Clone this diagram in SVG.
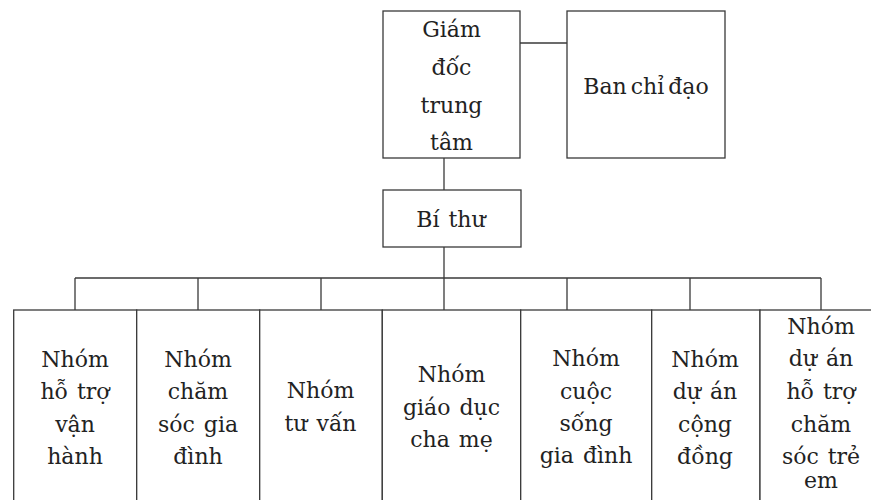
<svg xmlns="http://www.w3.org/2000/svg" width="871" height="500" viewBox="0 0 871 500">
<style>
.box{fill:#fff;stroke:#3a3a3a;stroke-width:1.3}
.ln{fill:none;stroke:#3a3a3a;stroke-width:1.3}
text{font-family:"DejaVu Serif","Liberation Serif",serif;font-size:22px;fill:#222;text-anchor:middle;word-spacing:2px}
</style>
<rect width="871" height="500" fill="#fff"/>
<g id="connectors">
<path class="ln" d="M520,43H567"/>
<path class="ln" d="M444,158V190"/>
<path class="ln" d="M444,247V310"/>
<path class="ln" d="M75,278H821"/>
<path class="ln" d="M75,278V310M198,278V310M321,278V310M567,278V310M690,278V310M821,278V310"/>
</g>
<g id="giam-doc">
<rect class="box" x="383" y="11" width="137" height="147"/>
<text x="451.5" y="37">Giám</text>
<text x="451.5" y="75">đốc</text>
<text x="451.5" y="113">trung</text>
<text x="451.5" y="150">tâm</text>
</g>
<g id="ban-chi-dao">
<rect class="box" x="567" y="11" width="158" height="147"/>
<text x="646" y="94" style="word-spacing:-3px">Ban chỉ đạo</text>
</g>
<g id="bi-thu">
<rect class="box" x="383" y="190" width="138" height="57"/>
<text x="451" y="227">Bí thư</text>
</g>
<g id="nhom-1">
<rect class="box" x="13.7" y="310" width="123" height="200"/>
<text x="75" y="367">Nhóm</text>
<text x="75" y="399">hỗ trợ</text>
<text x="75" y="432">vận</text>
<text x="75" y="464">hành</text>
</g>
<g id="nhom-2">
<rect class="box" x="136.7" y="310" width="123" height="200"/>
<text x="198" y="367">Nhóm</text>
<text x="198" y="399">chăm</text>
<text x="198" y="432">sóc gia</text>
<text x="198" y="464">đình</text>
</g>
<g id="nhom-3">
<rect class="box" x="259.7" y="310" width="122.6" height="200"/>
<text x="320.5" y="398">Nhóm</text>
<text x="320.5" y="431">tư vấn</text>
</g>
<g id="nhom-4">
<rect class="box" x="382.3" y="310" width="138.4" height="200"/>
<text x="451.5" y="382">Nhóm</text>
<text x="451.5" y="415">giáo dục</text>
<text x="451.5" y="447">cha mẹ</text>
</g>
<g id="nhom-5">
<rect class="box" x="520.7" y="310" width="131" height="200"/>
<text x="586" y="366">Nhóm</text>
<text x="586" y="399">cuộc</text>
<text x="586" y="431">sống</text>
<text x="586" y="463">gia đình</text>
</g>
<g id="nhom-6">
<rect class="box" x="651.7" y="310" width="108.3" height="200"/>
<text x="705" y="367">Nhóm</text>
<text x="705" y="399">dự án</text>
<text x="705" y="432">cộng</text>
<text x="705" y="464">đồng</text>
</g>
<g id="nhom-7">
<rect class="box" x="760" y="310" width="122" height="200"/>
<text x="821" y="334">Nhóm</text>
<text x="821" y="366">dự án</text>
<text x="821" y="399">hỗ trợ</text>
<text x="821" y="432">chăm</text>
<text x="821" y="464">sóc trẻ</text>
<text x="821" y="488">em</text>
</g>
</svg>
